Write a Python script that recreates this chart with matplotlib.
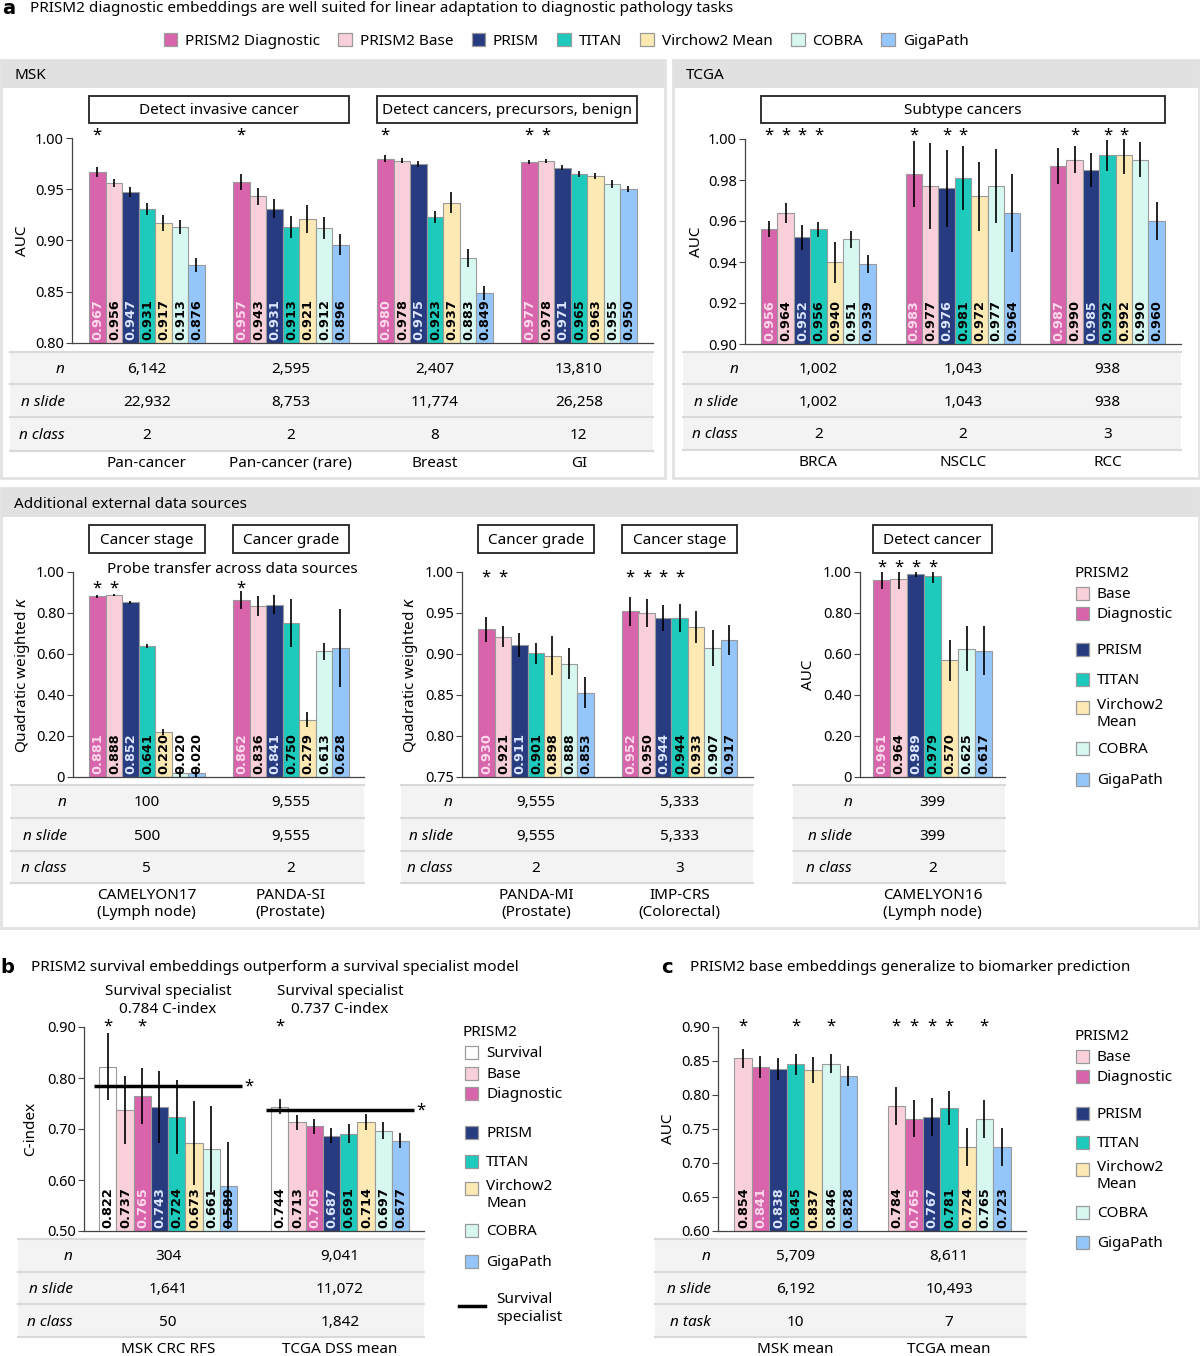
import numpy as np
import matplotlib
matplotlib.use('Agg')
import matplotlib.pyplot as plt
from matplotlib.patches import Rectangle, Patch
import matplotlib.transforms as mtransforms

W, H = 1200, 1356
plt.rcParams['font.family'] = ['Noto Sans', 'DejaVu Sans']
plt.rcParams['mathtext.fontset'] = 'dejavusans'

# ---------------- data ----------------
models_a = ['PRISM2 Diagnostic', 'PRISM2 Base', 'PRISM', 'TITAN', 'Virchow2 Mean', 'COBRA', 'GigaPath']
models_b = ['PRISM2 Survival', 'PRISM2 Base', 'PRISM2 Diagnostic', 'PRISM', 'TITAN', 'Virchow2 Mean', 'COBRA', 'GigaPath']
models_c = ['PRISM2 Base', 'PRISM2 Diagnostic', 'PRISM', 'TITAN', 'Virchow2 Mean', 'COBRA', 'GigaPath']
model_colors = {'PRISM2 Survival': '#ffffff', 'PRISM2 Diagnostic': '#d865ab', 'PRISM2 Base': '#f9d0da',
                'PRISM': '#263b80', 'TITAN': '#1dcabb', 'Virchow2 Mean': '#fde9b4',
                'COBRA': '#d6f8f0', 'GigaPath': '#94c6fb'}
label_colors = {'PRISM2 Diagnostic': '#ffd9ec', 'PRISM': '#dde6ff'}
short_names = {'PRISM2 Survival': 'Survival', 'PRISM2 Base': 'Base', 'PRISM2 Diagnostic': 'Diagnostic',
               'PRISM': 'PRISM', 'TITAN': 'TITAN', 'Virchow2 Mean': 'Virchow2\nMean',
               'COBRA': 'COBRA', 'GigaPath': 'GigaPath'}

# MSK
msk_tasks = ['Pan-cancer', 'Pan-cancer (rare)', 'Breast', 'GI']
msk_auc = [[0.967, 0.956, 0.947, 0.931, 0.917, 0.913, 0.876],
           [0.957, 0.943, 0.931, 0.913, 0.921, 0.912, 0.896],
           [0.980, 0.978, 0.975, 0.923, 0.937, 0.883, 0.849],
           [0.977, 0.978, 0.971, 0.965, 0.963, 0.955, 0.950]]
msk_err = [[0.005, 0.004, 0.005, 0.006, 0.008, 0.007, 0.007],
           [0.008, 0.008, 0.009, 0.011, 0.0135, 0.0105, 0.010],
           [0.003, 0.0026, 0.003, 0.006, 0.010, 0.0086, 0.007],
           [0.002, 0.002, 0.0025, 0.003, 0.003, 0.0037, 0.003]]
msk_stars = [[0], [0], [0], [0, 1]]
msk_n = ['6,142', '2,595', '2,407', '13,810']
msk_nslide = ['22,932', '8,753', '11,774', '26,258']
msk_nclass = ['2', '2', '8', '12']

# TCGA
tcga_tasks = ['BRCA', 'NSCLC', 'RCC']
tcga_auc = [[0.956, 0.964, 0.952, 0.956, 0.940, 0.951, 0.939],
            [0.983, 0.977, 0.976, 0.981, 0.972, 0.977, 0.964],
            [0.987, 0.990, 0.985, 0.992, 0.992, 0.990, 0.960]]
tcga_err = [[0.004, 0.005, 0.006, 0.0037, 0.010, 0.0042, 0.0043],
            [0.016, 0.021, 0.0187, 0.0154, 0.017, 0.018, 0.019],
            [0.0088, 0.0065, 0.0084, 0.0077, 0.009, 0.0085, 0.0095]]
tcga_stars = [[0, 1, 2, 3], [0, 2, 3], [1, 3, 4]]
tcga_n = ['1,002', '1,043', '938']
tcga_nslide = ['1,002', '1,043', '938']
tcga_nclass = ['2', '2', '3']

# External: CAMELYON17 / PANDA-SI
ext1_tasks = ['CAMELYON17\n(Lymph node)', 'PANDA-SI\n(Prostate)']
ext1_kappa = [[0.881, 0.888, 0.852, 0.641, 0.220, 0.020, 0.020],
              [0.862, 0.836, 0.841, 0.750, 0.279, 0.613, 0.628]]
ext1_err = [[0.008, 0.007, 0.007, 0.010, 0.013, 0.018, 0.018],
            [0.044, 0.049, 0.047, 0.118, 0.036, 0.043, 0.190]]
ext1_stars = [[0, 1], [0]]
ext1_n = ['100', '9,555']
ext1_nslide = ['500', '9,555']
ext1_nclass = ['5', '2']

# External: PANDA-MI / IMP-CRS
ext2_tasks = ['PANDA-MI\n(Prostate)', 'IMP-CRS\n(Colorectal)']
ext2_kappa = [[0.930, 0.921, 0.911, 0.901, 0.898, 0.888, 0.853],
              [0.952, 0.950, 0.944, 0.944, 0.933, 0.907, 0.917]]
ext2_err = [[0.015, 0.013, 0.015, 0.013, 0.024, 0.019, 0.019],
            [0.018, 0.017, 0.016, 0.017, 0.020, 0.022, 0.018]]
ext2_stars = [[0, 1], [0, 1, 2, 3]]
ext2_n = ['9,555', '5,333']
ext2_nslide = ['9,555', '5,333']
ext2_nclass = ['2', '3']

# External: CAMELYON16
ext3_tasks = ['CAMELYON16\n(Lymph node)']
ext3_auc = [[0.961, 0.964, 0.989, 0.979, 0.570, 0.625, 0.617]]
ext3_err = [[0.042, 0.046, 0.012, 0.032, 0.100, 0.110, 0.118]]
ext3_stars = [[0, 1, 2, 3]]
ext3_n = ['399']
ext3_nslide = ['399']
ext3_nclass = ['2']

# b: survival
surv_tasks = ['MSK CRC RFS', 'TCGA DSS mean']
surv_cindex = [[0.822, 0.737, 0.765, 0.743, 0.724, 0.673, 0.661, 0.589],
               [0.744, 0.713, 0.705, 0.687, 0.691, 0.714, 0.697, 0.677]]
surv_err = [[0.066, 0.067, 0.055, 0.071, 0.073, 0.082, 0.084, 0.085],
            [0.014, 0.015, 0.014, 0.015, 0.018, 0.016, 0.017, 0.015]]
surv_stars = [[0, 2], [0]]
surv_specialist = [0.784, 0.737]
surv_n = ['304', '9,041']
surv_nslide = ['1,641', '11,072']
surv_nclass = ['50', '1,842']

# c: biomarkers
bio_tasks = ['MSK mean', 'TCGA mean']
bio_auc = [[0.854, 0.841, 0.838, 0.845, 0.837, 0.846, 0.828],
           [0.784, 0.765, 0.767, 0.781, 0.724, 0.765, 0.723]]
bio_err = [[0.014, 0.016, 0.016, 0.015, 0.019, 0.014, 0.015],
           [0.028, 0.027, 0.028, 0.025, 0.028, 0.028, 0.028]]
bio_stars = [[0, 3, 5], [0, 1, 2, 3, 5]]
bio_n = ['5,709', '8,611']
bio_nslide = ['6,192', '10,493']
bio_ntask = ['10', '7']

# ---------------- figure ----------------
fig = plt.figure(figsize=(W / 100, H / 100), dpi=100)
ov = fig.add_axes([0, 0, 1, 1])
ov.set_xlim(0, W)
ov.set_ylim(H, 0)
ov.axis('off')
ov.set_zorder(0)

FS = 11
EDGE = '#9a9a9a'
DY = 1.5  # small downward nudge for vertically centred text


def T(x, y, s, **kw):
    if kw.get('va', 'baseline') == 'center':
        y = y + DY
    return ov.text(x, y, s, **kw)


def panel_frame(x0, y0, x1, y1, title, header_h=28):
    ov.add_patch(Rectangle((x0, y0), x1 - x0, y1 - y0, facecolor='white', edgecolor='#e2e2e2', lw=2, zorder=0))
    ov.add_patch(Rectangle((x0, y0), x1 - x0, header_h, facecolor='#e1e1e1', edgecolor='none', zorder=0.5))
    T(x0 + 13, y0 + header_h / 2, title, ha='left', va='center', fontsize=FS, zorder=1)


def bar_panel(L, Tp, R, B, first_left, bw, gap, ylim, yticks, yticklabels, values, errors, models,
              stars, star_py, ylabel, ylabel_px, label_fs=9.3):
    ax = fig.add_axes([L / W, 1 - B / H, (R - L) / W, (B - Tp) / H])
    ax.set_zorder(2)
    ax.patch.set_alpha(0)
    nmod = len(models)
    ax.set_xlim((L - first_left) / bw - 0.5, (R - first_left) / bw - 0.5)
    ax.set_ylim(*ylim)
    cols = [model_colors[m] for m in models]
    blend = mtransforms.blended_transform_factory(ax.transData, ax.transAxes)
    pad = 3.0 / (B - Tp)
    sfrac = (B - star_py) / (B - Tp)
    for g, (vals, errs) in enumerate(zip(values, errors)):
        xs = g * gap + np.arange(nmod)
        ax.bar(xs, vals, width=1.0, color=cols, edgecolor=EDGE, linewidth=0.8, zorder=2)
        ax.errorbar(xs, vals, yerr=errs, fmt='none', ecolor='black', elinewidth=1.2, capsize=0, zorder=3)
        for x, v, m in zip(xs, vals, models):
            ax.text(x + 0.04, pad, f'{v:.3f}', transform=blend, rotation=90, ha='center', va='bottom',
                    fontsize=label_fs, fontweight='bold', family='DejaVu Sans',
                    color=label_colors.get(m, 'black'), zorder=4)
        for i in stars[g]:
            ax.text(xs[i], sfrac, '*', transform=blend, ha='center', va='center', fontsize=12,
                    clip_on=False, zorder=4)
    for s in ['top', 'right']:
        ax.spines[s].set_visible(False)
    for s in ['left', 'bottom']:
        ax.spines[s].set_color('#444444')
        ax.spines[s].set_linewidth(0.9)
    ax.set_xticks([])
    ax.set_yticks(yticks)
    ax.set_yticklabels(yticklabels)
    ax.tick_params(axis='y', length=4, width=0.8, labelsize=10.5, pad=2, color='#444444')
    ov.text(ylabel_px, (Tp + B) / 2, ylabel, rotation=90, ha='center', va='center', fontsize=FS)
    centers = [ax.transData.transform((g * gap + (nmod - 1) / 2, ylim[0]))[0] for g in range(len(values))]
    return ax, centers


def group_px(ax, gap, nmod, g0, g1):
    x0 = ax.transData.transform((g0 * gap - 0.5, 0))[0]
    x1 = ax.transData.transform((g1 * gap + nmod - 0.5, 0))[0]
    return x0, x1


def header_box(x0, x1, y0, y1, text):
    ov.add_patch(Rectangle((x0, y0), x1 - x0, y1 - y0, facecolor='white', edgecolor='#222222', lw=1.3, zorder=2))
    T((x0 + x1) / 2, (y0 + y1) / 2, text, ha='center', va='center', fontsize=FS, zorder=3)


def draw_table(centers, x_left, x_right, y_lines, label_right, row_labels, row_values, names):
    ov.add_patch(Rectangle((x_left, y_lines[0]), x_right - x_left, y_lines[-1] - y_lines[0],
                           facecolor='#f3f3f3', edgecolor='none', zorder=1))
    for y in y_lines:
        ov.plot([x_left, x_right], [y, y], color='#d9d9d9', lw=1.5, zorder=1.5)
    for r, (lab, vals) in enumerate(zip(row_labels, row_values)):
        yc = (y_lines[r] + y_lines[r + 1]) / 2
        T(label_right, yc, lab, ha='right', va='center', style='italic', fontsize=FS, zorder=3)
        for cx, v in zip(centers, vals):
            T(cx, yc, v, ha='center', va='center', fontsize=FS, zorder=3)
    for cx, nm in zip(centers, names):
        ov.text(cx, y_lines[-1] + 5, nm, ha='center', va='top', fontsize=FS, linespacing=1.2, zorder=3)


def side_legend(x_sq, y_head, entries, ys):
    T(x_sq - 2, y_head, 'PRISM2', ha='left', va='center', fontsize=FS)
    for m, y in zip(entries, ys):
        ov.add_patch(Rectangle((x_sq, y - 6.5), 13, 13, facecolor=model_colors[m], edgecolor=EDGE, lw=0.9))
        nm = short_names[m]
        if '\n' in nm:
            ov.text(x_sq + 21, y - 9, nm, ha='left', va='top', fontsize=FS, linespacing=1.2)
        else:
            T(x_sq + 21, y, nm, ha='left', va='center', fontsize=FS)


# ---------------- panel a ----------------
T(2, 7, 'a', ha='left', va='center', fontsize=14, fontweight='bold', family='DejaVu Sans')
T(30, 7, 'PRISM2 diagnostic embeddings are well suited for linear adaptation to diagnostic pathology tasks',
  ha='left', va='center', fontsize=FS)
handles = [Patch(facecolor=model_colors[m], edgecolor=EDGE, lw=0.9) for m in models_a]
fig.legend(handles, models_a, loc='center', bbox_to_anchor=(566 / W, 1 - 41 / H), ncol=7, frameon=False,
           fontsize=FS, handlelength=0.9, handleheight=0.9, handletextpad=0.5, columnspacing=1.2)

panel_frame(1, 60, 665, 478, 'MSK')
panel_frame(673, 60, 1199, 478, 'TCGA')

rows3 = ['n', 'n slide', 'n class']
GAP_A = 144 / 16.5
ax_msk, c_msk = bar_panel(72, 138, 653, 343, 89, 16.5, GAP_A, (0.80, 1.00),
                          [0.80, 0.85, 0.90, 0.95, 1.00], ['0.80', '0.85', '0.90', '0.95', '1.00'],
                          msk_auc, msk_err, models_a, msk_stars, 136, 'AUC', 22)
x0, x1 = group_px(ax_msk, GAP_A, 7, 0, 1)
header_box(x0, x1, 96, 123, 'Detect invasive cancer')
x0, x1 = group_px(ax_msk, GAP_A, 7, 2, 3)
header_box(x0, x1, 96, 123, 'Detect cancers, precursors, benign')
draw_table(c_msk, 10, 653, [352, 384, 417, 451], 65, rows3,
           [msk_n, msk_nslide, msk_nclass], msk_tasks)

GAP_T = 144.5 / 16.4
ax_tc, c_tc = bar_panel(745, 139, 1181, 344, 761, 16.4, GAP_T, (0.90, 1.00),
                        [0.90, 0.92, 0.94, 0.96, 0.98, 1.00], ['0.90', '0.92', '0.94', '0.96', '0.98', '1.00'],
                        tcga_auc, tcga_err, models_a, tcga_stars, 136, 'AUC', 696)
x0, x1 = group_px(ax_tc, GAP_T, 7, 0, 2)
header_box(x0, x1, 96, 123, 'Subtype cancers')
draw_table(c_tc, 683, 1181, [352, 384, 417, 450], 738, rows3,
           [tcga_n, tcga_nslide, tcga_nclass], tcga_tasks)

# ---------------- external panel ----------------
panel_frame(1, 488, 1199, 928, 'Additional external data sources', header_h=29)
kappa_lab = 'Quadratic weighted $\\kappa$'
ax_e1, c_e1 = bar_panel(73, 572, 364, 777, 89, 16.5, GAP_A, (0.0, 1.0),
                        [0, 0.2, 0.4, 0.6, 0.8, 1.0], ['0', '0.20', '0.40', '0.60', '0.80', '1.00'],
                        ext1_kappa, ext1_err, models_a, ext1_stars, 589, kappa_lab, 23)
x0, x1 = group_px(ax_e1, GAP_A, 7, 0, 0)
header_box(x0, x1, 525, 553, 'Cancer stage')
x0, x1 = group_px(ax_e1, GAP_A, 7, 1, 1)
header_box(x0, x1, 525, 553, 'Cancer grade')
T(232, 568, 'Probe transfer across data sources', ha='center', va='center', fontsize=FS)
y_ext = [785, 818, 851, 883]
draw_table(c_e1, 11, 364, y_ext, 67, rows3, [ext1_n, ext1_nslide, ext1_nclass], ext1_tasks)

ax_e2, c_e2 = bar_panel(462, 572, 753, 777, 478, 16.5, GAP_A, (0.75, 1.0),
                        [0.75, 0.80, 0.85, 0.90, 0.95, 1.00], ['0.75', '0.80', '0.85', '0.90', '0.95', '1.00'],
                        ext2_kappa, ext2_err, models_a, ext2_stars, 578, kappa_lab, 410)
x0, x1 = group_px(ax_e2, GAP_A, 7, 0, 0)
header_box(x0, x1, 525, 553, 'Cancer grade')
x0, x1 = group_px(ax_e2, GAP_A, 7, 1, 1)
header_box(x0, x1, 525, 553, 'Cancer stage')
draw_table(c_e2, 401, 753, y_ext, 453, rows3, [ext2_n, ext2_nslide, ext2_nclass], ext2_tasks)

ax_e3, c_e3 = bar_panel(860, 572, 1005, 777, 873, 17.0, GAP_A, (0.0, 1.0),
                        [0, 0.2, 0.4, 0.6, 0.8, 1.0], ['0', '0.20', '0.40', '0.60', '0.80', '1.00'],
                        ext3_auc, ext3_err, models_a, ext3_stars, 568, 'AUC', 808)
x0, x1 = group_px(ax_e3, GAP_A, 7, 0, 0)
header_box(x0, x1, 525, 553, 'Detect cancer')
draw_table(c_e3, 793, 1005, y_ext, 852, rows3, [ext3_n, ext3_nslide, ext3_nclass], ext3_tasks)

side_legend(1076, 572, ['PRISM2 Base', 'PRISM2 Diagnostic', 'PRISM', 'TITAN', 'Virchow2 Mean', 'COBRA', 'GigaPath'],
            [593, 613, 649, 679, 707, 748, 779])

# ---------------- panel b ----------------
T(0, 966, 'b', ha='left', va='center', fontsize=14, fontweight='bold', family='DejaVu Sans')
T(31, 966, 'PRISM2 survival embeddings outperform a survival specialist model', ha='left', va='center', fontsize=FS)
GAP_B = 172 / 17.25
ax_b, c_b = bar_panel(84, 1027, 424, 1231, 99, 17.25, GAP_B, (0.50, 0.90),
                      [0.5, 0.6, 0.7, 0.8, 0.9], ['0.50', '0.60', '0.70', '0.80', '0.90'],
                      surv_cindex, surv_err, models_b, surv_stars, 1027, 'C-index', 31)
for g, sv in enumerate(surv_specialist):
    xa = g * GAP_B - 0.5 - 0.3
    xb = g * GAP_B + len(models_b) - 0.5 + 0.3
    ax_b.plot([xa, xb], [sv, sv], color='black', lw=2.5, zorder=5, solid_capstyle='butt')
    ax_b.text(xb + 0.1, sv, '*', ha='left', va='center', fontsize=12, zorder=5, clip_on=False)
for cx, sv in zip(c_b, surv_specialist):
    T(cx, 999, f'Survival specialist\n{sv:.3f} C-index', ha='center', va='center', fontsize=FS,
      linespacing=1.2)
y_bc = [1239, 1272, 1304, 1337]
draw_table(c_b, 18, 424, y_bc, 73, rows3, [surv_n, surv_nslide, surv_nclass], surv_tasks)
side_legend(465, 1031, models_b, [1052, 1073, 1093, 1132, 1161, 1188, 1230, 1261])
ov.plot([459, 485], [1306, 1306], color='black', lw=2.5)
T(496, 1307, 'Survival\nspecialist', ha='left', va='center', fontsize=FS, linespacing=1.2)

# ---------------- panel c ----------------
T(661, 966, 'c', ha='left', va='center', fontsize=14, fontweight='bold', family='DejaVu Sans')
T(690, 966, 'PRISM2 base embeddings generalize to biomarker prediction', ha='left', va='center', fontsize=FS)
GAP_C = 153.5 / 17.6
ax_c, c_c = bar_panel(718, 1027, 1026, 1231, 734, 17.6, GAP_C, (0.60, 0.90),
                      [0.60, 0.65, 0.70, 0.75, 0.80, 0.85, 0.90],
                      ['0.60', '0.65', '0.70', '0.75', '0.80', '0.85', '0.90'],
                      bio_auc, bio_err, models_c, bio_stars, 1027, 'AUC', 668)
draw_table(c_c, 655, 1026, y_bc, 711, ['n', 'n slide', 'n task'], [bio_n, bio_nslide, bio_ntask], bio_tasks)
side_legend(1076, 1035, models_c, [1056, 1076, 1113, 1142, 1169, 1212, 1242])

fig.savefig('out.png', dpi=100)
